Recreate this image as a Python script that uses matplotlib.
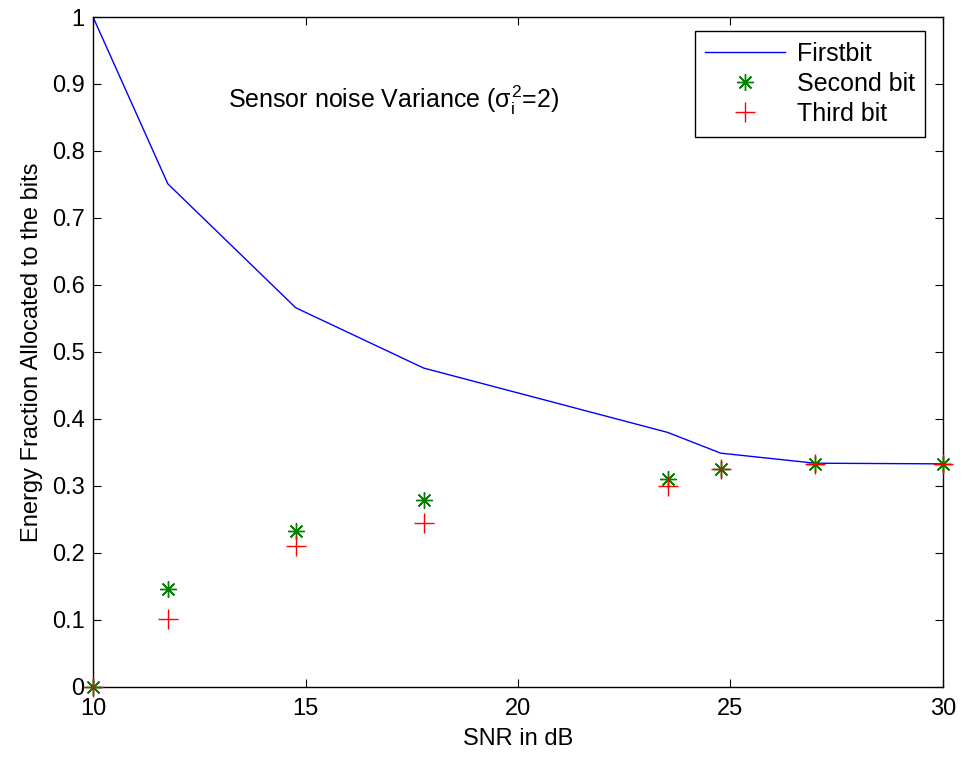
import matplotlib
matplotlib.use("Agg")
import matplotlib.pyplot as plt

plt.rcParams['font.family'] = ['Liberation Sans', 'DejaVu Sans']
plt.rcParams['mathtext.fontset'] = 'custom'
plt.rcParams['mathtext.rm'] = 'Liberation Sans'
plt.rcParams['mathtext.it'] = 'Liberation Sans'

# SNR (dB) and energy fraction per bit
snr_db = [10, 11.76, 14.77, 17.78, 23.52, 24.77, 26.99, 30]
first_bit = [1.0, 0.751, 0.566, 0.476, 0.380, 0.349, 0.334, 0.333]
second_bit = [0.0, 0.146, 0.233, 0.279, 0.310, 0.326, 0.333, 0.333]
third_bit = [0.0, 0.102, 0.210, 0.245, 0.300, 0.325, 0.333, 0.333]

xticks = [10, 15, 20, 25, 30]
yticks = [0, 0.1, 0.2, 0.3, 0.4, 0.5, 0.6, 0.7, 0.8, 0.9, 1]
ytick_labels = ['0', '0.1', '0.2', '0.3', '0.4', '0.5', '0.6', '0.7', '0.8', '0.9', '1']

fs = 17

fig = plt.figure(figsize=(9.64, 7.59), dpi=100)
ax = fig.add_axes([0.0965, 0.0949, 0.8817, 0.8827])

ax.plot(snr_db, first_bit, color='#0000ff', lw=1.0, label='Firstbit')
ax.plot(snr_db, second_bit, ls='none', marker=(8, 2, 0), ms=12, mew=1.0,
        color='#008000', label='Second bit', clip_on=False, zorder=3)
ax.plot(snr_db, third_bit, ls='none', marker='+', ms=14, mew=1.0,
        color='#ff0000', label='Third bit', clip_on=False, zorder=3)

ax.set_xlim(10, 30)
ax.set_ylim(0, 1)
ax.set_xticks(xticks)
ax.set_yticks(yticks)
ax.set_yticklabels(ytick_labels)
ax.tick_params(direction='in', length=6, width=0.8, top=True, right=True,
               labelsize=fs)
ax.tick_params(axis='x', pad=8)
ax.tick_params(axis='y', pad=6)
for s in ax.spines.values():
    s.set_linewidth(1.0)

ax.set_xlabel('SNR in dB', fontsize=fs, labelpad=6)
ax.set_ylabel('Energy Fraction Allocated to the bits', fontsize=fs, labelpad=6)

ax.text(13.18, 0.876, r'Sensor noise Variance ($\sigma_i^2$=2)', fontsize=18,
        va='center', ha='left')

leg = ax.legend(loc='upper right', bbox_to_anchor=(0.979, 0.979), fontsize=18,
                fancybox=False, framealpha=1, edgecolor='black',
                borderaxespad=0, handlelength=3.2, labelspacing=0.25,
                borderpad=0.42, handletextpad=0.45)
leg.get_frame().set_linewidth(1.0)

fig.savefig('out.png', dpi=100)
